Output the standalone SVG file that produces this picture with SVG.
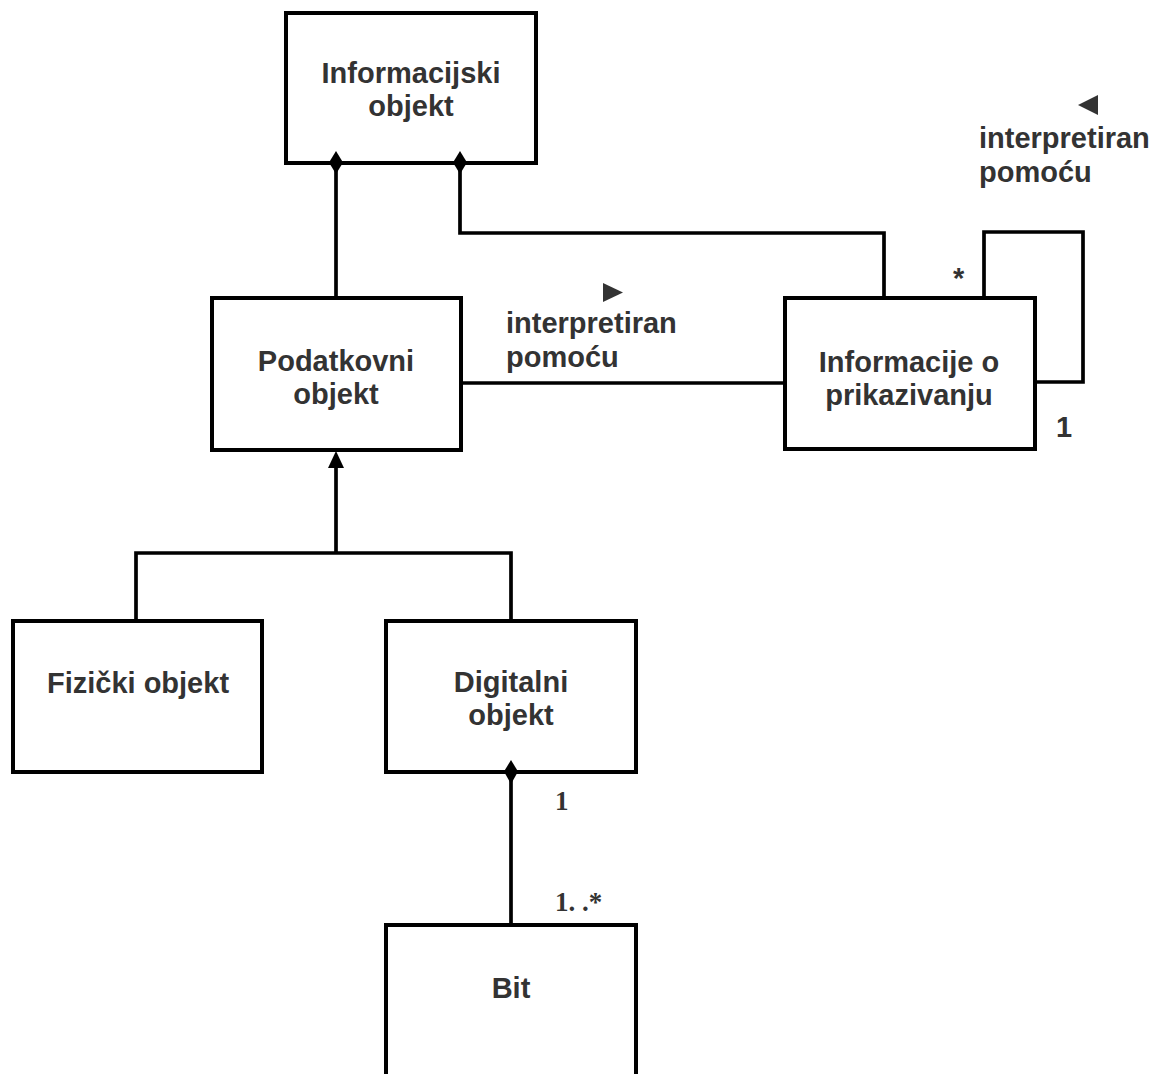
<svg xmlns="http://www.w3.org/2000/svg" width="1162" height="1074" viewBox="0 0 1162 1074">
<style>
.box{fill:#fff;stroke:#000;stroke-width:4}
.ln{fill:none;stroke:#000;stroke-width:3.7}
.t{font-family:"Liberation Sans",Arial,sans-serif;font-weight:bold;font-size:29px;fill:#333;text-anchor:middle}
.l{font-family:"Liberation Sans",Arial,sans-serif;font-weight:bold;font-size:29px;fill:#333}
.s{font-family:"Liberation Serif","Times New Roman",serif;font-weight:bold;font-size:27px;fill:#333}
.fill{fill:#000}
.tri{fill:#333}
</style>
<rect width="1162" height="1074" fill="#fff"/>
<g id="connectors">
<path class="ln" d="M336 163 V298"/>
<path class="ln" d="M460 163 V233 H884 V298"/>
<path class="ln" d="M461 383 H785"/>
<path class="ln" d="M984 298 V232 H1083 V382 H1035"/>
<path class="ln" d="M336 466 V553"/>
<path class="ln" d="M136 621 V553 H511 V621"/>
<path class="ln" d="M511 772 V925"/>
</g>
<g id="informacijski">
<rect class="box" x="286" y="13" width="250" height="150"/>
<text class="t" x="411" y="83">Informacijski</text>
<text class="t" x="411" y="116">objekt</text>
</g>
<g id="podatkovni">
<rect class="box" x="212" y="298" width="249" height="152"/>
<text class="t" x="336" y="371">Podatkovni</text>
<text class="t" x="336" y="404">objekt</text>
</g>
<g id="informacije">
<rect class="box" x="785" y="298" width="250" height="151"/>
<text class="t" x="909" y="372">Informacije o</text>
<text class="t" x="909" y="405">prikazivanju</text>
</g>
<g id="fizicki">
<rect class="box" x="13" y="621" width="249" height="151"/>
<text class="t" x="138" y="693">Fizički objekt</text>
</g>
<g id="digitalni">
<rect class="box" x="386" y="621" width="250" height="151"/>
<text class="t" x="511" y="692">Digitalni</text>
<text class="t" x="511" y="725">objekt</text>
</g>
<g id="bit">
<rect class="box" x="386" y="925" width="250" height="170"/>
<text class="t" x="511" y="998">Bit</text>
</g>
<g id="markers">
<polygon class="fill" points="336,151 343,162.5 336,174 329,162.5"/>
<polygon class="fill" points="460,151 467,162.5 460,174 453,162.5"/>
<polygon class="fill" points="511,760 518,771.5 511,784 504,771.5"/>
<polygon class="fill" points="336,451 344,468 328,468"/>
</g>
<g id="labels">
<polygon class="tri" points="603,283 623,292.5 603,302"/>
<text class="l" x="506" y="333">interpretiran</text>
<text class="l" x="506" y="367">pomoću</text>
<polygon class="tri" points="1098,95 1078,105 1098,115"/>
<text class="l" x="979" y="148">interpretiran</text>
<text class="l" x="979" y="182">pomoću</text>
<text class="l" x="953" y="288">*</text>
<text class="l" x="1056" y="437">1</text>
<text class="s" x="555" y="810">1</text>
<text class="s" x="555" y="911">1. .*</text>
</g>
</svg>
